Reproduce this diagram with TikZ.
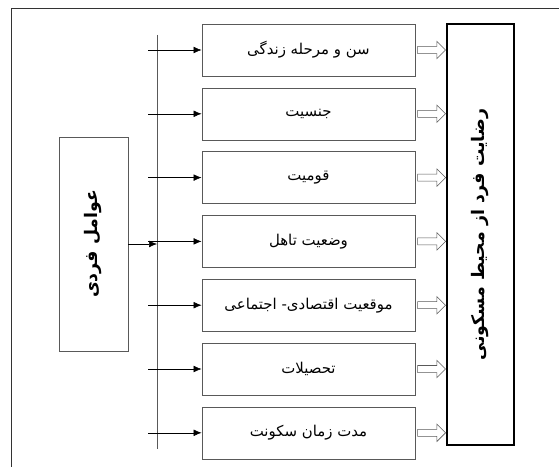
\documentclass[tikz,border=0pt]{standalone}
\usepackage{fontspec}
\newfontfamily\arabicfont[Script=Arabic]{DejaVu Sans}
\TeXXeTstate=1
\usetikzlibrary{arrows.meta,shapes.arrows}

\begin{document}
\begin{tikzpicture}[x=0.75pt,y=-0.75pt,
  item/.style={draw=black!65, minimum width=160pt, minimum height=39pt, font=\arabicfont\fontsize{11.2}{13}\selectfont},
  side/.style={draw=black!65, rotate=90, font=\arabicfont\bfseries\fontsize{13}{15}\selectfont},
  hollow/.style={single arrow, draw=black!65, inner sep=2.4pt, minimum height=21pt, minimum width=13pt, single arrow head extend=3.8pt, anchor=tip},
  link/.style={-{Latex[length=6pt,width=5pt]}, black}]
\useasboundingbox (0,0) rectangle (559,467);
\draw[black!80] (559,8) -- (11,8) -- (11,467);%外枠
\node[side, minimum width=160.5pt, minimum height=51.75pt] (fardi) at (93.5,244) {\beginR عوامل فردی\endR};
\node[side, draw=black, line width=1.6pt, minimum width=315.75pt, minimum height=50.25pt] (goal) at (480.5,234.5) {\beginR رضایت فرد از محیط مسکونی\endR};
\coordinate (ttop) at (157,35);
\coordinate (tbot) at (157,449);
\draw[black!65] (ttop) -- (tbot);%幹線
\foreach \i / \label in
  {0/سن و مرحله زندگی, 1/جنسیت, 2/قومیت, 3/وضعیت تاهل, 4/موقعیت اقتصادی- اجتماعی, 5/تحصیلات, 6/مدت زمان سکونت}
  {
   \node[item] (b\i) at (308.5,50+63.8*\i) {\beginR\label\endR};
   \coordinate (s\i) at (148,50+63.8*\i);
   \draw[link] (s\i) -- (b\i.west);
   \node[hollow] (h\i) at (b\i -| goal.north) {};
  }
\draw[link] (fardi.south) -- (fardi.south -| ttop);%中央の矢印
\end{tikzpicture}
\end{document}
